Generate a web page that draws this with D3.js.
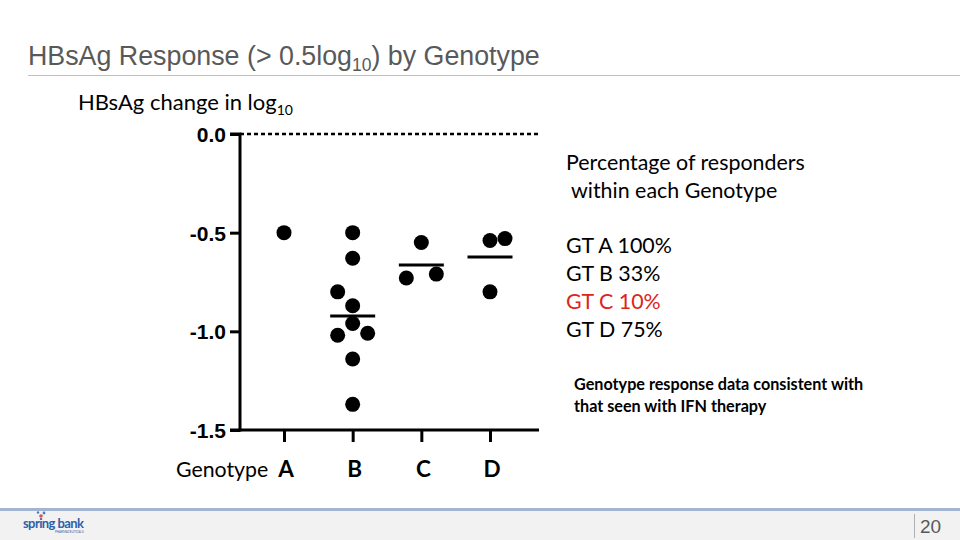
<!DOCTYPE html>
<html>
<head>
<meta charset="utf-8">
<script src="https://cdn.jsdelivr.net/npm/d3@7"></script>
<style>
  html, body { margin: 0; padding: 0; background: #fff; }
  svg { display: block; }
</style>
</head>
<body>
<svg id="chart" width="960" height="540"></svg>
<script>
// ---------- data ----------
const genotypes = ["A", "B", "C", "D"];
const yTicks = [0.0, -0.5, -1.0, -1.5];
const yTickLabels = ["0.0", "-0.5", "-1.0", "-1.5"];
// individual patient values (log10 change) with dodge slot (-1, 0, +1)
const pointGenotype = ["A", "B", "B", "B", "B", "B", "B", "B", "B", "B", "C", "C", "C", "D", "D", "D"];
const pointValue    = [-0.50, -0.50, -0.63, -0.80, -0.87, -0.96, -1.02, -1.01, -1.14, -1.37, -0.55, -0.73, -0.71, -0.54, -0.53, -0.80];
const pointSlot     = [0, 0, 0, -1, 0, 0, -1, 1, 0, 0, 0, -1, 1, 0, 1, 0];
const responderLabels = ["GT A 100%", "GT B 33%", "GT C 10%", "GT D 75%"];
const responderHighlight = [false, false, true, false];

// ---------- layout ----------
const svg = d3.select("#chart");
const plot = { left: 240, right: 539, top: 134, bottom: 430 };
const sansCal = "Lato, 'Open Sans', 'Noto Sans', sans-serif";
const arial = "'Liberation Sans', Arial, sans-serif";

// title
const title = svg.append("text").attr("x", 28).attr("y", 65)
  .attr("font-family", arial).attr("font-size", 26.8).attr("fill", "#595959");
title.append("tspan").text("HBsAg Response (> 0.5log");
title.append("tspan").text("10").attr("font-size", 17.5).attr("dy", 6);
title.append("tspan").text(") by Genotype").attr("dy", -6);
svg.append("line").attr("x1", 28).attr("x2", 960).attr("y1", 75.5).attr("y2", 75.5)
  .attr("stroke", "#bfbfbf").attr("stroke-width", 1);

// y label
const yl = svg.append("text").attr("x", 78).attr("y", 110)
  .attr("font-family", sansCal).attr("font-size", 22).attr("fill", "#000");
yl.append("tspan").text("HBsAg change in log");
yl.append("tspan").text("10").attr("font-size", 14).attr("dy", 5);

// scales
const x = d3.scalePoint().domain(genotypes).range([284, 490]);
const y = d3.scaleLinear().domain([-1.5, 0]).range([plot.bottom, plot.top]);
const slotW = 15;

// dashed zero line
svg.append("line")
  .attr("x1", plot.left).attr("x2", plot.right)
  .attr("y1", y(0)).attr("y2", y(0))
  .attr("stroke", "#000").attr("stroke-width", 2.5).attr("stroke-dasharray", "4,3");

// y axis
const yAxis = d3.axisLeft(y).tickValues(yTicks)
  .tickFormat((d, i) => yTickLabels[i]).tickSize(10).tickPadding(4);
const gy = svg.append("g").attr("transform", `translate(${plot.left},0)`).call(yAxis);
gy.select(".domain").attr("stroke-width", 3).attr("d", `M-10,${y(0)}H0V${y(-1.5)}H-10`);
gy.selectAll(".tick line").attr("stroke-width", 3);
gy.selectAll(".tick text").attr("font-family", arial).attr("font-weight", "bold")
  .attr("font-size", 21).attr("fill", "#000").attr("dy", "0.36em");

// x axis
const xAxis = d3.axisBottom(x).tickSize(12).tickFormat("");
const gx = svg.append("g").attr("transform", `translate(0,${plot.bottom})`).call(xAxis);
gx.select(".domain").attr("stroke-width", 3).attr("d", `M${plot.left - 1.5},0H${plot.right}`);
gx.selectAll(".tick line").attr("stroke-width", 3);

// x labels
svg.selectAll("text.xlab").data(genotypes).enter().append("text")
  .attr("class", "xlab")
  .attr("x", d => x(d) + 2).attr("y", 477).attr("text-anchor", "middle")
  .attr("font-family", sansCal).attr("font-weight", "bold").attr("font-size", 22.5)
  .attr("fill", "#000").text(d => d);
svg.append("text").attr("x", 176).attr("y", 477)
  .attr("font-family", sansCal).attr("font-size", 21.3).attr("fill", "#000").text("Genotype");

// points
const pts = pointValue.map((v, i) => ({ g: pointGenotype[i], v, s: pointSlot[i] }));
svg.selectAll("circle.pt").data(pts).enter().append("circle")
  .attr("class", "pt")
  .attr("cx", d => x(d.g) + d.s * slotW)
  .attr("cy", d => y(d.v))
  .attr("r", 7.5).attr("fill", "#000");

// mean lines (computed from points of groups with >1 value)
genotypes.forEach(g => {
  const vals = pts.filter(p => p.g === g).map(p => p.v);
  if (vals.length < 2) return;
  const m = d3.mean(vals);
  svg.append("line")
    .attr("x1", x(g) - 22.5).attr("x2", x(g) + 22.5)
    .attr("y1", y(m)).attr("y2", y(m))
    .attr("stroke", "#000").attr("stroke-width", 3);
});

// right-side annotation
svg.append("text").attr("x", 566).attr("y", 170)
  .attr("font-family", sansCal).attr("font-size", 21.4).attr("fill", "#000")
  .text("Percentage of responders");
svg.append("text").attr("x", 571).attr("y", 198)
  .attr("font-family", sansCal).attr("font-size", 21.4).attr("fill", "#000")
  .text("within each Genotype");
svg.selectAll("text.resp").data(responderLabels).enter().append("text")
  .attr("class", "resp")
  .attr("x", 566).attr("y", (d, i) => 253 + i * 28)
  .attr("font-family", sansCal).attr("font-size", 21.4)
  .attr("fill", (d, i) => responderHighlight[i] ? "#e0241b" : "#000")
  .text(d => d);
svg.append("text").attr("x", 574).attr("y", 390)
  .attr("font-family", sansCal).attr("font-weight", "bold").attr("font-size", 16.2).attr("fill", "#000")
  .text("Genotype response data consistent with");
svg.append("text").attr("x", 574).attr("y", 412)
  .attr("font-family", sansCal).attr("font-weight", "bold").attr("font-size", 16.2).attr("fill", "#000")
  .text("that seen with IFN therapy");

// footer
svg.append("rect").attr("x", 0).attr("y", 511).attr("width", 960).attr("height", 29).attr("fill", "#f2f2f2");
svg.append("line").attr("x1", 0).attr("x2", 960).attr("y1", 509.5).attr("y2", 509.5)
  .attr("stroke", "#a3b5d3").attr("stroke-width", 3);
svg.append("line").attr("x1", 914.5).attr("x2", 914.5).attr("y1", 514).attr("y2", 538)
  .attr("stroke", "#b0b0b0").attr("stroke-width", 1);
svg.append("text").attr("x", 920).attr("y", 533)
  .attr("font-family", arial).attr("font-size", 19).attr("fill", "#595959").text("20");
// logo
svg.append("circle").attr("cx", 41).attr("cy", 516).attr("r", 1.8).attr("fill", "#e05050");
svg.append("circle").attr("cx", 44).attr("cy", 513).attr("r", 1.4).attr("fill", "#4a7cc0");
svg.append("circle").attr("cx", 38).attr("cy", 512.5).attr("r", 1.2).attr("fill", "#4a7cc0");
svg.append("text").attr("x", 23).attr("y", 528)
  .attr("font-family", sansCal).attr("font-size", 13).attr("font-weight", "bold").attr("fill", "#2f5ea8")
  .attr("letter-spacing", -0.6).text("spring bank");
svg.append("text").attr("x", 55).attr("y", 533)
  .attr("font-family", sansCal).attr("font-size", 3).attr("fill", "#2f5ea8").text("PHARMACEUTICALS");
</script>
</body>
</html>
